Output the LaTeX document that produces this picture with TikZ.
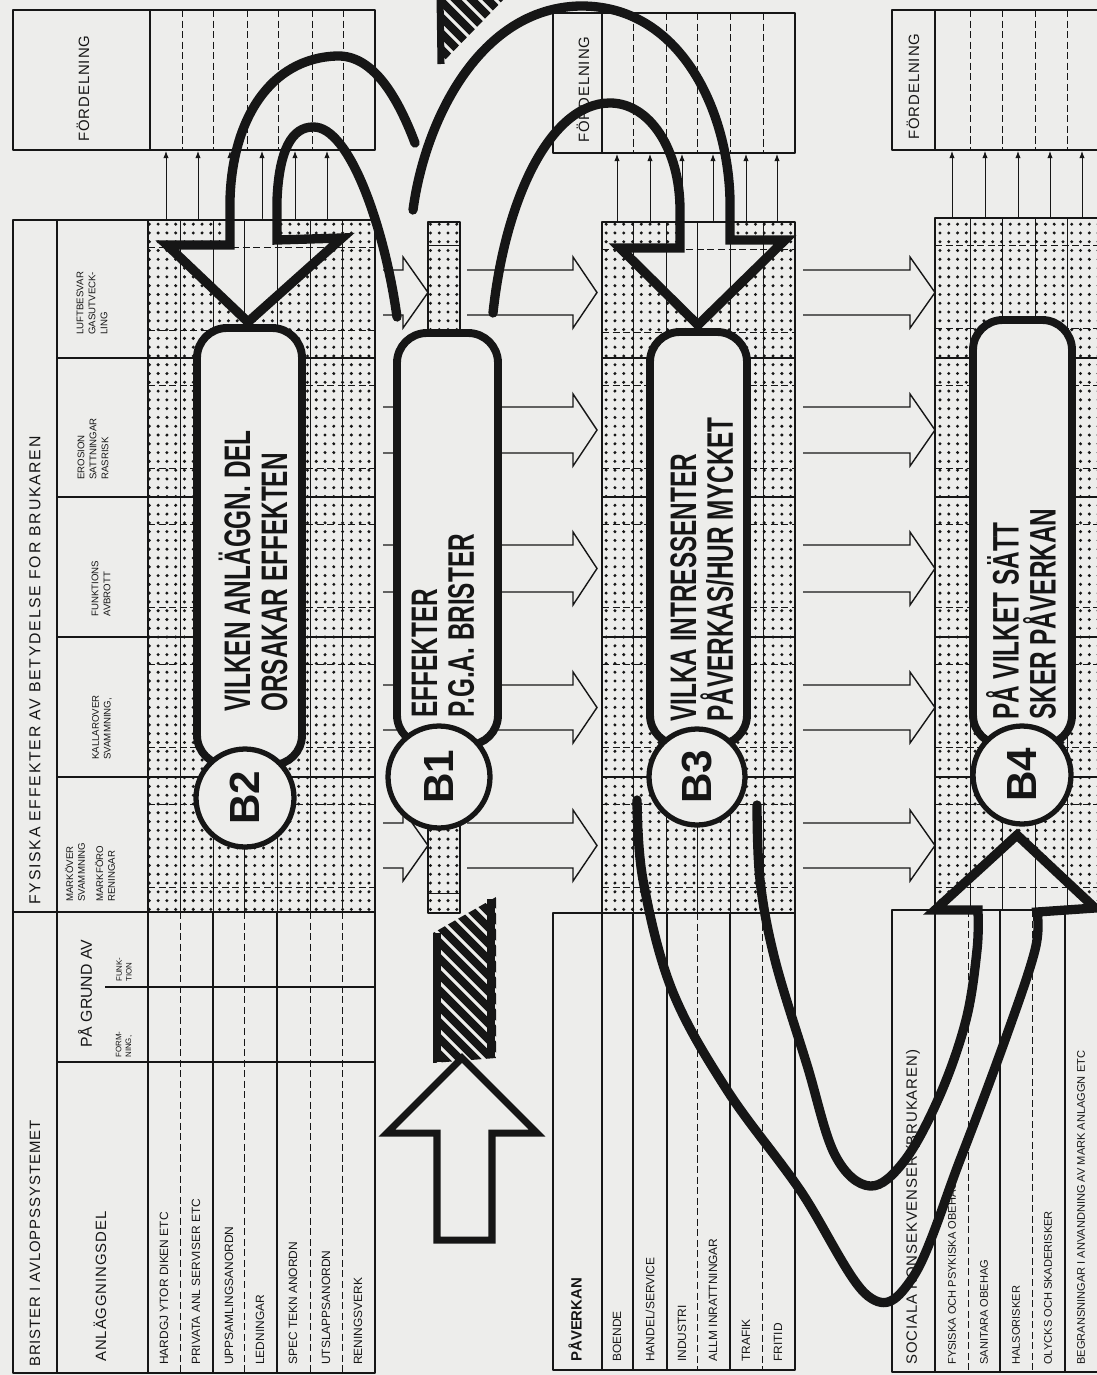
\documentclass[tikz,border=0pt]{standalone}
\usepackage{fontspec}
\setmainfont{Liberation Sans}
\newfontfamily\handfont[FakeStretch=0.66]{Liberation Sans}
\usetikzlibrary{arrows.meta,patterns.meta}
\definecolor{ScanPaper}{HTML}{EDEDEB}
\definecolor{ScanInk}{HTML}{161616}

\tikzdeclarepattern{
  name=rasterdots,
  type=uncolored,
  bounding box={(-2.5pt,-2.5pt) and (2.5pt,2.5pt)},
  tile size={(5pt,5pt)},
  code={\fill (0pt,0pt) circle (0.95pt);}
}

% open outline arrow pointing right: shaft start, head base, tip, upper y, lower y
\newcommand{\hollowarrow}[5]{%
  \draw[hollow] (#1,#4) -- (#2,#4) -- (#2,#4-13) -- (#3,{(#4+#5)/2})
    -- (#2,#5+13) -- (#2,#5) -- (#1,#5);}

\begin{document}
\begin{tikzpicture}[x=0.02cm,y=-0.02cm,line join=round,
    tblframe/.style={draw=ScanInk,line width=0.8pt},
    tblrule/.style={draw=ScanInk,line width=0.35pt},
    subrule/.style={draw=ScanInk,line width=0.3pt,dash pattern=on 4pt off 2pt},
    raster/.style={pattern=rasterdots,pattern color=ScanInk},
    hollow/.style={draw=ScanInk,line width=0.8pt,line join=miter},
    lift/.style={draw=ScanInk,line width=0.5pt,-{Latex[length=4pt,width=3pt]}},
    pipe/.style={draw=ScanInk,line width=5.3pt,line cap=round,line join=miter},
    capsule/.style={fill=ScanPaper,draw=ScanInk,line width=4.5pt,rounded corners=17pt},
    btag/.style={circle,fill=ScanPaper,draw=ScanInk,line width=3pt,minimum size=1.96cm,
      inner sep=0pt,rotate=90,text=ScanInk,font=\bfseries\fontsize{24}{24}\selectfont},
    vtext/.style={rotate=90,anchor=west,inner sep=0pt,text=ScanInk},
    rowtext/.style={vtext,font=\fontsize{6.8}{7}\selectfont},
    headtext/.style={vtext,font=\fontsize{5.5}{6.8}\selectfont,align=left},
    bandtitle/.style={vtext,font=\addfontfeatures{LetterSpace=6}\fontsize{8.5}{9}\selectfont},
    handtext/.style={vtext,font=\handfont\bfseries\fontsize{21}{21}\selectfont,align=left},
    hatchline/.style={draw=ScanInk,line width=4.5pt}]

  \useasboundingbox (0,0) rectangle (1097,1375);
  \clip (0,0) rectangle (1097,1375);
  \fill[ScanPaper] (0,0) rectangle (1097,1375);

  % ---------- panel A: brister i avloppssystemet ----------
  \draw[tblframe] (13,10) rectangle (375,150) (150,10) -- (150,150);
  \foreach \x in {182,213,247,278,312,343} \draw[subrule] (\x,10) -- (\x,150);
  \node[bandtitle] (fordA) at (83,142) {FÖRDELNING};
  \foreach \x in {166,198,230,262,295,327} \draw[lift] (\x,220) -- (\x,151);

  \fill[raster] (148,220) rectangle (375,912);
  \fill[ScanPaper] (167,245) -- (230,245) -- (230,219) -- (277,219) -- (277,240) -- (342,238) -- (248,322) -- cycle;
  \draw[tblframe] (13,220) rectangle (375,912) (57,220) -- (57,912) (148,220) -- (148,912);
  \foreach \y in {358,497,637,777} \draw[tblframe] (57,\y) -- (375,\y);
  \foreach \y in {220,358,497,637,777} \draw[subrule] (148,\y+27) -- (375,\y+27) (148,\y+110) -- (375,\y+110);
  \foreach \x in {180,213,244,277,310,342} \draw[tblrule] (\x,220) -- (\x,912);

  \node[bandtitle,font=\addfontfeatures{LetterSpace=11}\fontsize{9}{10}\selectfont] (fysA) at (35,905) {FYSISKA EFFEKTER AV BETYDELSE FOR BRUKAREN};
  \node[headtext] (luft) at (92,335) {LUFTBESVAR\\GASUTVECK-\\LING};
  \node[headtext] (eros) at (93,480) {EROSION\\SATTNINGAR\\RASRISK};
  \node[headtext] (funk) at (101,617) {FUNKTIONS\\AVBROTT};
  \node[headtext] (kall) at (102,760) {KALLAROVER\\SVAMMNING,};
  \node[headtext] (mark) at (90,902) {MARKÖVER\\SVAMMNING\\[3.5pt]MARKFÖRO\\RENINGAR};

  \draw[tblframe] (13,912) rectangle (375,1373) (57,912) -- (57,1373) (148,912) -- (148,1373)
    (57,1062) -- (375,1062) (105,987) -- (375,987);
  \foreach \x in {213,277} \draw[tblframe] (\x,912) -- (\x,1373);
  \foreach \x in {180,244,310,342} \draw[subrule] (\x,912) -- (\x,1373);

  \node[bandtitle] (bristA) at (35,1367) {BRISTER I AVLOPPSSYSTEMET};
  \node[bandtitle] (anlA) at (100,1362) {ANLÄGGNINGSDEL};
  \node[bandtitle,font=\fontsize{9}{10}\selectfont] (grundA) at (85,1048) {PÅ GRUND AV};
  \node[headtext,font=\fontsize{4.5}{5.5}\selectfont] (formA) at (124,1058) {FORM-\\NING,};
  \node[headtext,font=\fontsize{4.5}{5.5}\selectfont] (funA) at (124,982) {FUNK-\\TION};
  \foreach \x/\t [count=\i] in {164/HARDGJ YTOR DIKEN ETC,196/PRIVATA ANL SERVISER ETC,
      229/UPPSAMLINGSANORDN,260/LEDNINGAR,293/SPEC TEKN ANORDN,326/UTSLAPPSANORDN,358/RENINGSVERK}
    \node[rowtext] (rowA\i) at (\x,1365) {\t};

  % ---------- panel B: paverkan ----------
  \draw[tblframe] (553,13) rectangle (795,153) (602,13) -- (602,153);
  \foreach \x in {633,666,697,730,763} \draw[subrule] (\x,13) -- (\x,153);
  \node[bandtitle] (fordB) at (583,143) {FÖRDELNING};
  \foreach \x in {617,650,682,713,746,777} \draw[lift] (\x,222) -- (\x,154);

  \fill[raster] (602,222) rectangle (795,913);
  \fill[ScanPaper] (620,248) -- (680,248) -- (680,221) -- (730,221) -- (730,240) -- (785,240) -- (698,325) -- cycle;
  \draw[tblframe] (602,222) rectangle (795,913);
  \foreach \y in {358,497,637,777} \draw[tblframe] (602,\y) -- (795,\y);
  \foreach \y in {222,358,497,637,777} \draw[subrule] (602,\y+27) -- (795,\y+27) (602,\y+110) -- (795,\y+110);
  \foreach \x in {633,666,697,730,763} \draw[tblrule] (\x,222) -- (\x,913);

  \draw[tblframe] (553,913) rectangle (795,1370) (602,913) -- (602,1370);
  \foreach \x in {633,667,730} \draw[tblframe] (\x,913) -- (\x,1370);
  \foreach \x in {697,762} \draw[subrule] (\x,913) -- (\x,1370);
  \node[vtext,font=\bfseries\fontsize{8.5}{9}\selectfont] (paverkan) at (575,1362) {PÅVERKAN};
  \foreach \x/\t [count=\i] in {617/BOENDE,650/{HANDEL/SERVICE},682/INDUSTRI,
      713/ALLM INRATTNINGAR,746/TRAFIK,778/FRITID}
    \node[rowtext] (rowB\i) at (\x,1362) {\t};

  % ---------- panel C: sociala konsekvenser ----------
  \draw[tblframe] (892,10) rectangle (1110,150) (935,10) -- (935,150);
  \foreach \x in {970,1002,1035,1067} \draw[subrule] (\x,10) -- (\x,150);
  \node[bandtitle] (fordC) at (913,140) {FÖRDELNING};
  \foreach \x in {952,985,1018,1050,1082} \draw[lift] (\x,218) -- (\x,151);

  \fill[raster] (935,218) rectangle (1110,910);
  \fill[ScanPaper] (935,910) -- (1017,835) -- (1095,908) -- cycle;
  \draw[tblframe] (935,218) rectangle (1110,910);
  \foreach \y in {358,497,637,777} \draw[tblframe] (935,\y) -- (1110,\y);
  \foreach \y in {218,358,497,637,777} \draw[subrule] (935,\y+27) -- (1110,\y+27) (935,\y+110) -- (1110,\y+110);
  \foreach \x in {970,1002,1035,1067} \draw[tblrule] (\x,218) -- (\x,910);

  \draw[tblframe] (892,910) rectangle (1110,1372) (935,910) -- (935,1372);
  \foreach \x in {968,1032} \draw[subrule] (\x,910) -- (\x,1372);
  \foreach \x in {1000,1065} \draw[tblframe] (\x,910) -- (\x,1372);
  \node[bandtitle] (socC) at (913,1365) {SOCIALA KONSEKVENSER (BRUKAREN)};
  \foreach \x/\t [count=\i] in {952/FYSISKA OCH PSYKISKA OBEHAG,984/SANITARA OBEHAG,1016/HALSORISKER,
      1048/OLYCKS OCH SKADERISKER,1081/BEGRANSNINGAR I ANVANDNING AV MARK ANLAGGN ETC}
    \node[rowtext,font=\fontsize{6.3}{7}\selectfont] (rowC\i) at (\x,1365) {\t};

  % ---------- effect strip and open arrows ----------
  \filldraw[raster,draw=ScanInk,line width=0.8pt] (428,222) rectangle (460,913);
  \draw[tblrule] (428,245) -- (460,245) (428,893) -- (460,893);
  \foreach \a/\b in {270/315,407/453,545/592,685/730,823/868}{
    \hollowarrow{383}{403}{428}{\a}{\b}
    \hollowarrow{467}{573}{597}{\a}{\b}
    \hollowarrow{803}{910}{935}{\a}{\b}
  }

  % hatched bar ends
  \begin{scope}
    \clip (437,-5) -- (508,-5) -- (441,64) -- cycle;
    \foreach \k in {-90,-74,...,80} \draw[hatchline] (440+\k,-10) -- ++(100,100);
  \end{scope}
  \draw[ScanInk,line width=4pt] (440,-5) -- (441,64);
  \begin{scope}
    \clip (433,933) -- (496,897) -- (496,1058) -- (433,1063) -- cycle;
    \foreach \k in {-200,-184,...,80} \draw[hatchline] (433+\k,880) -- ++(220,220);
  \end{scope}
  \draw[ScanInk,line width=4.5pt] (437,933) -- (437,1062) (491,899) -- (491,1058);
  \draw[ScanInk,line width=4pt,fill=ScanPaper,line join=miter] (462,1058) -- (537,1133) -- (492,1133)
    -- (492,1240) -- (437,1240) -- (437,1133) -- (387,1133) -- cycle;

  % ---------- callouts ----------
  \draw[capsule] (197,328) rectangle (302,765);
  \node[btag] (b2) at (245,798) {B2};
  \node[handtext] (capB2) at (253,712) {VILKEN ANLÄGGN. DEL\\ORSAKAR EFFEKTEN};

  \draw[capsule] (397,333) rectangle (498,745);
  \node[btag,minimum size=2.04cm] (b1) at (439,777) {B1};
  \node[handtext] (capB1) at (443,718) {EFFEKTER\\P.G.A. BRISTER};

  \draw[capsule] (650,332) rectangle (747,745);
  \node[btag,minimum size=1.92cm] (b3) at (697,777) {B3};
  \node[handtext] (capB3) at (702,722) {VILKA INTRESSENTER\\PÅVERKAS/HUR MYCKET};

  \draw[capsule] (973,320) rectangle (1072,745);
  \node[btag] (b4) at (1022,775) {B4};
  \node[handtext] (capB4) at (1021,720) {PÅ VILKET SÄTT\\SKER PÅVERKAN};

  % ---------- pipes ----------
  \draw[pipe] (415,143) .. controls (395,90) and (370,55) .. (337,56)
    .. controls (270,58) and (232,120) .. (230,200) -- (230,245) -- (167,245) -- (248,322)
    -- (342,238) -- (277,240) -- (277,200) .. controls (279,150) and (292,127) .. (313,127)
    .. controls (350,126) and (385,230) .. (397,317);
  \draw[pipe] (413,210) .. controls (425,120) and (480,8) .. (580,6)
    .. controls (680,5) and (728,110) .. (730,200) -- (730,240) -- (785,240) -- (698,325)
    -- (620,248) -- (680,248) -- (680,210) .. controls (680,150) and (650,103) .. (610,103)
    .. controls (550,103) and (505,200) .. (493,313);
  \draw[pipe] plot[smooth,tension=0.6] coordinates {(637,800) (643,880) (672,990) (727,1090)
      (800,1190) (868,1296) (913,1277) (960,1160) (1005,1040) (1035,950) (1037,912)}
    -- (1095,908) -- (1017,835) -- (935,910) -- (978,910)
    -- plot[smooth,tension=0.6] coordinates {(978,912) (977,950) (966,1020) (940,1095)
      (905,1160) (870,1186) (835,1155) (807,1065) (775,960) (760,880) (757,805)};
\end{tikzpicture}
\end{document}
